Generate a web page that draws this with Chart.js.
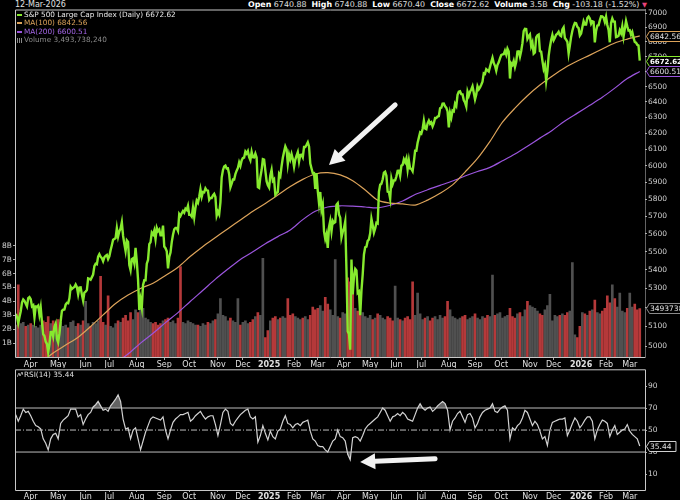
<!DOCTYPE html>
<html>
<head>
<meta charset="utf-8">
<title>S&amp;P 500 Large Cap Index (Daily)</title>
<script src="https://cdn.jsdelivr.net/npm/chart.js@4.4.1/dist/chart.umd.min.js"></script>
<style>
  html, body { margin: 0; padding: 0; background: #000; }
  body { width: 680px; height: 500px; overflow: hidden; position: relative; font-family: "DejaVu Sans", Verdana, sans-serif; color: #ddd; }
  canvas { position: absolute; left: 0; }
  #mainChart { top: 0; }
  #rsiChart { top: 368px; }
  .hdr { position: absolute; top: 0; font-size: 8px; line-height: 10px; white-space: nowrap; }
  #hdrDate { left: 15px; color: #e0e0e0; }
  #hdrQuote { left: 248px; font-size: 7.9px; color: #e0e0e0; }
  #hdrQuote b { color: #fff; }
  .dn { color: #e8437a; font-size: 6.5px; }
  .legend { position: absolute; left: 17px; font-size: 7.3px; line-height: 8.3px; white-space: nowrap; }
  #legend { top: 11px; }
  #rsiLegend { top: 371px; color: #e0e0e0; }
  .key { display: inline-block; width: 5px; height: 2px; margin-right: 2px; vertical-align: middle; }
  .vicon { display: inline-block; width: 5px; height: 5px; margin-right: 2px; vertical-align: -1px;
           background: repeating-linear-gradient(90deg, #888 0 1px, transparent 1px 2px); }
</style>
</head>
<body>
<div id="hdrDate" class="hdr">12-Mar-2026</div>
<div id="hdrQuote" class="hdr"><b>Open</b> 6740.88 &nbsp;<b>High</b> 6740.88 &nbsp;<b>Low</b> 6670.40 &nbsp;<b>Close</b> 6672.62 &nbsp;<b>Volume</b> 3.5B &nbsp;<b>Chg</b> -103.18 (-1.52%) <span class="dn">&#9660;</span></div>

<canvas id="mainChart" width="680" height="368"></canvas>
<canvas id="rsiChart" width="680" height="132"></canvas>

<div id="legend" class="legend">
  <div style="color:#e8e8e8"><span class="key" style="background:#86ea2e"></span>S&amp;P 500 Large Cap Index (Daily) 6672.62</div>
  <div style="color:#dca35a"><span class="key" style="background:#dca35a"></span>MA(100) 6842.56</div>
  <div style="color:#a466e6"><span class="key" style="background:#9b55dd"></span>MA(200) 6600.51</div>
  <div style="color:#8a8a8a"><span class="vicon"></span>Volume 3,493,738,240</div>
</div>
<div id="rsiLegend" class="legend"><svg width="6" height="6" style="vertical-align:-1px;margin-right:1px"><polyline points="0,5 2,1 3,4 5,0 6,3" fill="none" stroke="#ccc" stroke-width="0.8"/></svg>RSI(14) 35.44</div>

<script>
// Daily closes, one per trading day, starting 13-Mar-2024 (day -12; day 0 = 1-Apr-2024)
var firstDay = -12;
var closes = [
  5165, 5150, 5117, 5149, 5179, 5225, 5241, 5234, 5218, 5204, 5248, 5254,                        // Mar 24
  5243, 5205, 5211, 5147, 5204, 5202, 5209, 5161, 5199, 5123, 5061, 5051, 5022, 5011, 4967, 5010, 5071, 5072, 5048, 5100, 5116, 5036, // Apr
  5018, 5064, 5128, 5181, 5187, 5188, 5214, 5223, 5221, 5247, 5308, 5297, 5303, 5308, 5321, 5307, 5268, 5305, 5306, 5267, 5235, 5278, // May
  5283, 5291, 5354, 5352, 5347, 5361, 5375, 5421, 5434, 5431, 5473, 5487, 5473, 5465, 5448, 5469, 5478, 5483, 5460, // Jun
  5475, 5509, 5537, 5567, 5572, 5577, 5633, 5585, 5615, 5631, 5667, 5589, 5545, 5505, 5564, 5555, 5427, 5399, 5459, 5464, 5436, 5522, // Jul
  5446, 5347, 5186, 5240, 5199, 5319, 5344, 5344, 5434, 5455, 5543, 5554, 5608, 5597, 5620, 5571, 5635, 5616, 5625, 5592, 5592, 5648, // Aug
  5529, 5520, 5503, 5408, 5471, 5496, 5554, 5596, 5626, 5634, 5634, 5618, 5714, 5703, 5719, 5732, 5722, 5745, 5738, 5762, // Sep
  5709, 5709, 5699, 5751, 5696, 5751, 5792, 5780, 5815, 5859, 5815, 5843, 5841, 5865, 5853, 5851, 5797, 5809, 5808, 5823, 5832, 5813, 5705, // Oct
  5728, 5712, 5782, 5929, 5973, 5996, 6001, 5984, 5985, 5949, 5871, 5893, 5917, 5917, 5949, 5970, 5987, 6021, 5999, 6032, // Nov
  6047, 6050, 6087, 6075, 6090, 6053, 6034, 6085, 6052, 6051, 6074, 6050, 5872, 5867, 5931, 5974, 6040, 6037, 5971, 5907, 5882, // Dec
  5869, 5942, 5975, 5909, 5918, 5827, 5836, 5843, 5950, 5937, 5997, 6049, 6086, 6119, 6101, 6012, 6068, 6039, 6071, 6041, // Jan 25
  5994, 6038, 6061, 6083, 6026, 6066, 6068, 6052, 6115, 6115, 6129, 6144, 6118, 6013, 5983, 5955, 5956, 5861, 5955, // Feb
  5850, 5778, 5843, 5739, 5770, 5615, 5572, 5599, 5522, 5639, 5675, 5615, 5675, 5663, 5668, 5768, 5777, 5712, 5693, 5581, 5612, // Mar
  5633, 5671, 5397, 5074, 5062, 4982, 5457, 5268, 5363, 5406, 5397, 5276, 5283, 5158, 5288, 5376, 5485, 5525, 5529, 5561, 5569, // Apr
  5604, 5687, 5650, 5607, 5631, 5664, 5660, 5844, 5886, 5892, 5917, 5958, 5964, 5940, 5845, 5842, 5803, 5922, 5889, 5912, 5912, // May
  5936, 5970, 5971, 5939, 6000, 6006, 6039, 6022, 6045, 5977, 6033, 5983, 5981, 5967, 6025, 6092, 6092, 6141, 6173, 6205, // Jun
  6198, 6227, 6279, 6230, 6226, 6263, 6280, 6260, 6269, 6244, 6264, 6297, 6297, 6306, 6309, 6359, 6363, 6389, 6390, 6371, 6362, 6339, // Jul
  6238, 6330, 6299, 6345, 6340, 6389, 6374, 6446, 6466, 6469, 6450, 6449, 6411, 6396, 6370, 6467, 6440, 6466, 6481, 6502, 6460, // Aug
  6416, 6448, 6502, 6482, 6495, 6512, 6532, 6588, 6584, 6615, 6607, 6600, 6631, 6664, 6693, 6657, 6638, 6605, 6644, 6661, 6688, // Sep
  6711, 6715, 6716, 6740, 6714, 6754, 6735, 6553, 6655, 6644, 6671, 6630, 6664, 6735, 6736, 6699, 6738, 6792, 6875, 6891, 6890, 6822, 6840, // Oct
  6852, 6771, 6796, 6720, 6728, 6832, 6846, 6851, 6737, 6734, 6672, 6617, 6642, 6538, 6603, 6705, 6766, 6813, 6849, // Nov
  6812, 6829, 6850, 6857, 6870, 6846, 6840, 6887, 6901, 6827, 6816, 6800, 6721, 6775, 6835, 6878, 6910, 6932, 6930, 6905, 6896, 6845, // Dec
  6858, 6902, 6944, 6921, 6921, 6966, 6977, 6963, 6926, 6944, 6940, 6797, 6876, 6913, 6916, 6950, 6979, 6978, 6969, 6939, // Jan 26
  6976, 6918, 6883, 6798, 6932, 6964, 6942, 6941, 6833, 6836, 6843, 6881, 6861, 6909, 6837, 6890, 6946, 6908, 6879, // Feb
  6881, 6850, 6869, 6830, 6800, 6795, 6781, 6776, 6672.62                                       // Mar
];

// Moving averages read every 10 trading days
var ma100Start = 8;
var ma100 = [
  4915, 4965, 5005, 5045, 5100, 5160, 5220, 5265, 5300, 5328,
  5370, 5415, 5475, 5530, 5580, 5630, 5680, 5730, 5775, 5825,
  5875, 5918, 5950, 5958, 5945, 5910, 5855, 5795, 5778, 5773,
  5766, 5795, 5835, 5885, 5962, 6045, 6150, 6270, 6360, 6440,
  6510, 6570, 6625, 6670, 6710, 6752, 6793, 6820, 6842.56
];
var ma200Start = 68;
var ma200 = [
  4915, 4960, 5015, 5065, 5120, 5172, 5232, 5290, 5350, 5405,
  5458, 5500, 5545, 5585, 5623, 5682, 5730, 5755, 5762, 5760,
  5755, 5750, 5765, 5790, 5828, 5856, 5882, 5908, 5938, 5965,
  5990, 6030, 6072, 6120, 6170, 6220, 6278, 6328, 6378, 6430,
  6490, 6553, 6600.51
];
var maStep = 10;

// Volume (billions) and RSI(14), read every 2nd trading day from day -12
var halfStart = -12;
var halfStep = 2;
var volumes = [
  2.3, 5.2, 2.4, 2.5, 2.2, 2.3,
  2.4, 2.3, 2.2, 2.1, 2.3, 2.6, 2.5, 2.9, 2.4, 2.6,
  2.2, 2.7, 2.5, 2.2, 2.3, 2.1, 2.5, 2.6, 2.2, 2.4,
  2.3, 2.6, 4.0, 2.4, 2.2, 2.5, 2.4, 2.6, 5.8, 2.5,
  2.3, 4.4, 2.2, 2.1, 2.4, 2.6, 2.5, 2.8, 3.0, 2.6,
  3.2, 2.7, 3.4, 3.2, 3.9, 3.5, 2.8, 2.7, 2.5, 2.4,
  2.5, 2.3, 2.4, 2.6, 2.7, 2.8, 2.5, 2.6, 2.4, 2.8,
  6.5, 2.5, 2.4, 2.6, 2.5, 2.4, 2.3, 2.3, 2.2, 2.4,
  2.3, 2.5, 2.4, 2.6, 2.7, 3.1, 4.2, 3.0, 2.9, 2.6,
  2.8, 2.6, 2.5, 4.2, 2.3, 2.5, 2.6, 2.4, 2.5, 2.7,
  2.9, 3.2, 3.0, 7.1, 1.4, 1.9, 2.6, 2.8, 2.9, 2.7,
  2.8, 2.9, 2.8, 4.2, 3.0, 3.1, 2.9, 2.8, 2.7, 2.8,
  2.9, 2.7, 3.0, 3.6, 3.4, 3.5, 3.7, 3.3, 4.3, 3.8,
  3.4, 3.0, 7.0, 2.9, 2.8, 3.2, 3.1, 5.7, 5.4, 4.8,
  3.5, 3.3, 3.0, 3.2, 2.9, 2.8, 3.0, 2.7, 2.8, 3.1,
  3.0, 2.8, 2.7, 2.9, 2.8, 2.6, 5.1, 2.8, 2.7, 2.6,
  2.8, 2.9, 2.7, 5.4, 3.0, 4.6, 3.1, 2.7, 2.8, 2.9,
  2.6, 2.8, 2.9, 2.7, 3.0, 2.8, 2.9, 4.0, 3.4, 2.9,
  2.8, 2.7, 2.8, 2.9, 3.0, 2.7, 2.8, 2.9, 3.1, 2.8,
  2.7, 2.9, 2.8, 3.0, 2.9, 5.9, 3.0, 3.1, 3.2, 2.8,
  2.9, 3.0, 3.5, 2.9, 2.8, 3.1, 3.2, 2.9, 3.4, 4.0,
  3.7, 3.6, 3.5, 3.3, 3.1, 3.0, 3.4, 3.7, 4.5, 2.6,
  3.0, 2.9, 3.0, 3.1, 3.0, 3.2, 3.3, 6.8, 1.6, 1.4,
  2.2, 3.2, 3.1, 3.0, 3.3, 3.4, 4.1, 3.2, 3.1, 3.3,
  3.5, 4.4, 3.9, 5.2, 4.2, 3.6, 4.6, 3.3, 3.2, 3.5,
  4.6, 3.6, 3.8, 3.4, 3.49
];
var rsi14 = [
  64, 58, 63, 69, 66, 67,
  63, 58, 54, 53, 51, 42, 38, 32, 42, 46,
  47, 42, 56, 59, 61, 63, 69, 69, 69, 62,
  64, 55, 60, 64, 66, 71, 73, 76, 72, 68,
  69, 67, 72, 75, 78, 82, 76, 60, 51, 52,
  42, 50, 52, 42, 32, 40, 48, 54, 60, 62,
  61, 60, 59, 62, 50, 42, 50, 57, 60, 62,
  64, 64, 65, 66, 58, 60, 63, 65, 67, 63,
  60, 62, 63, 63, 55, 45, 55, 66, 69, 67,
  56, 54, 58, 61, 64, 66, 68, 69, 62, 60,
  62, 39, 45, 54, 47, 41, 49, 44, 42, 49,
  51, 58, 63, 56, 55, 52, 55, 56, 54, 57,
  58, 59, 49, 42, 40, 36, 35, 35, 32, 30,
  35, 40, 42, 50, 44, 43, 40, 28, 23, 43,
  44, 43, 40, 45, 51, 54, 56, 58, 60, 62,
  66, 70, 68, 63, 58, 62, 63, 65, 63, 66,
  64, 60, 59, 58, 64, 70, 74, 70, 68, 70,
  71, 67, 69, 72, 74, 76, 74, 68, 50, 58,
  61, 65, 67, 62, 57, 64, 65, 61, 52, 56,
  62, 66, 68, 69, 70, 74, 67, 66, 69, 71,
  72, 68, 42, 52, 50, 54, 56, 61, 68, 66,
  60, 54, 58, 55, 49, 42, 44, 36, 50, 57,
  58, 59, 60, 60, 61, 45, 50, 56, 61, 58,
  52, 55, 59, 62, 62, 58, 42, 50, 55, 59,
  58, 56, 44, 50, 54, 46, 48, 50, 51, 55,
  49, 46, 44, 42, 35.44
];

// Axis ticks
var monthDays = [0, 22, 44, 63, 85, 107, 127, 150, 170, 191, 211, 230, 251, 272, 293, 313, 335, 356, 377, 400, 419, 441, 461, 480];
var monthLabels = ['Apr', 'May', 'Jun', 'Jul', 'Aug', 'Sep', 'Oct', 'Nov', 'Dec', '2025', 'Feb', 'Mar',
                   'Apr', 'May', 'Jun', 'Jul', 'Aug', 'Sep', 'Oct', 'Nov', 'Dec', '2026', 'Feb', 'Mar'];
var priceTicks = [5000, 5100, 5200, 5300, 5400, 5500, 5600, 5700, 5800, 5900, 6000, 6100, 6200, 6300, 6400, 6500, 6600, 6700, 6800, 6900, 7000];
var volumeTicks = [1, 2, 3, 4, 5, 6, 7, 8];
var rsiTicks = [10, 30, 50, 70, 90];
var rsiLevels = [70, 50, 30];

// Arrow notes, in data coordinates [day, value]
var priceArrow = { from: [292, 6381], to: [239, 6005] };
var rsiArrow = { from: [324, 24], to: [264, 21] };

var FONT = '"DejaVu Sans", Verdana, sans-serif';
var X_MIN = -12.6, X_MAX = 492.2;
var GREEN = '#86ea2e', ORANGE = '#dca35a', PURPLE = '#9b55dd';
var VOL_RED = '#b5393a', VOL_GRAY = '#505050';

console.log('sp500 chart script loaded');

function toPoints(values, start, step) {
    return values.map(function (v, i) { return { x: start + i * step, y: v }; });
}

var pricePoints = toPoints(closes, firstDay, 1);
var ma100Points = toPoints(ma100, ma100Start, maStep);
var ma200Points = toPoints(ma200, ma200Start, maStep);
var volumePoints = toPoints(volumes, halfStart, halfStep);
var rsiPoints = toPoints(rsi14, halfStart, halfStep);

// Red bar when the close is below the previous close
var volumeColors = volumePoints.map(function (p) {
    var k = p.x - firstDay;
    return (k > 0 && closes[k] < closes[k - 1]) ? VOL_RED : VOL_GRAY;
});

function fixWidth(w) {
    return function (scale) { scale.width = w; scale.paddingTop = 0; scale.paddingBottom = 0; };
}
function fixHeight(h) {
    return function (scale) { scale.height = h; scale.paddingLeft = 0; scale.paddingRight = 0; };
}

function monthAxis(height, tickLen) {
    return {
        type: 'linear', position: 'bottom', min: X_MIN, max: X_MAX, offset: false,
        afterBuildTicks: function (axis) { axis.ticks = monthDays.map(function (d) { return { value: d }; }); },
        afterFit: fixHeight(height),
        ticks: {
            autoSkip: false, maxRotation: 0, padding: 0, color: '#e0e0e0',
            font: function (c) {
                var isYear = c.tick && (c.tick.value === 191 || c.tick.value === 441);
                return { family: FONT, size: 8, weight: isYear ? 'bold' : 'normal' };
            },
            callback: function (v, i) { return monthLabels[i]; }
        },
        grid: { offset: false, drawOnChartArea: false, tickLength: tickLen, color: '#aaa' },
        border: { display: false }
    };
}

// Box round the plot area
function framePlugin(dottedRight) {
    return {
        id: 'frame',
        afterDraw: function (chart) {
            var a = chart.chartArea, ctx = chart.ctx;
            ctx.save();
            ctx.strokeStyle = '#c8c8c8';
            ctx.lineWidth = 1;
            ctx.beginPath();
            ctx.moveTo(a.right + 0.5, a.top + 0.5);
            ctx.lineTo(a.left + 0.5, a.top + 0.5);
            ctx.lineTo(a.left + 0.5, a.bottom + 0.5);
            ctx.lineTo(a.right + 0.5, a.bottom + 0.5);
            if (!dottedRight) ctx.lineTo(a.right + 0.5, a.top + 0.5);
            ctx.stroke();
            if (dottedRight) {
                ctx.setLineDash([1, 1]);
                ctx.beginPath();
                ctx.moveTo(a.right + 0.5, a.top);
                ctx.lineTo(a.right + 0.5, a.bottom);
                ctx.stroke();
            }
            ctx.restore();
        }
    };
}

function drawTag(ctx, x, y, text, color, bold) {
    ctx.save();
    ctx.font = (bold ? 'bold 7px ' : '7.5px ') + FONT;
    var w = ctx.measureText(text).width + 5;
    ctx.beginPath();
    ctx.moveTo(x, y);
    ctx.lineTo(x + 3, y - 5);
    ctx.lineTo(x + 3 + w, y - 5);
    ctx.lineTo(x + 3 + w, y + 5);
    ctx.lineTo(x + 3, y + 5);
    ctx.closePath();
    ctx.fillStyle = '#000';
    ctx.fill();
    ctx.strokeStyle = color;
    ctx.lineWidth = 1;
    ctx.stroke();
    ctx.fillStyle = bold ? '#fff' : '#e0e0e0';
    ctx.textBaseline = 'middle';
    ctx.fillText(text, x + 3.5, y + 0.5);
    ctx.restore();
}

function tagPlugin(tags) {
    return {
        id: 'tags',
        afterDraw: function (chart) {
            tags.forEach(function (t) {
                var y = chart.scales[t.axis].getPixelForValue(t.value);
                drawTag(chart.ctx, chart.chartArea.right + 1.5, Math.round(y) + 0.5, t.text, t.color, t.bold);
            });
        }
    };
}

function arrowPlugin(arrow, yAxis) {
    return {
        id: 'arrow',
        afterDatasetsDraw: function (chart) {
            var sx = chart.scales.x, sy = chart.scales[yAxis], ctx = chart.ctx;
            var x1 = sx.getPixelForValue(arrow.from[0]), y1 = sy.getPixelForValue(arrow.from[1]);
            var x2 = sx.getPixelForValue(arrow.to[0]), y2 = sy.getPixelForValue(arrow.to[1]);
            var ang = Math.atan2(y2 - y1, x2 - x1);
            var head = 15, half = 8;
            var bx = x2 - head * Math.cos(ang), by = y2 - head * Math.sin(ang);
            ctx.save();
            ctx.strokeStyle = '#f2f2f2';
            ctx.fillStyle = '#f2f2f2';
            ctx.lineWidth = 5;
            ctx.lineCap = 'round';
            ctx.beginPath();
            ctx.moveTo(x1, y1);
            ctx.lineTo(bx, by);
            ctx.stroke();
            ctx.beginPath();
            ctx.moveTo(x2, y2);
            ctx.lineTo(bx + half * Math.sin(ang), by - half * Math.cos(ang));
            ctx.lineTo(bx - half * Math.sin(ang), by + half * Math.cos(ang));
            ctx.closePath();
            ctx.fill();
            ctx.restore();
        }
    };
}

var lastClose = closes[closes.length - 1];
var lastMa100 = ma100[ma100.length - 1];
var lastMa200 = ma200[ma200.length - 1];
var lastVolume = volumes[volumes.length - 1];
var lastRsi = rsi14[rsi14.length - 1];

var mainChart = new Chart(document.getElementById('mainChart'), {
    data: {
        datasets: [
            { type: 'line', label: 'S&P 500', data: pricePoints, yAxisID: 'y', order: 0,
              borderColor: GREEN, borderWidth: 2.4, pointRadius: 0, tension: 0 },
            { type: 'line', label: 'MA(100)', data: ma100Points, yAxisID: 'y', order: 1,
              borderColor: ORANGE, borderWidth: 1.2, pointRadius: 0, tension: 0.3 },
            { type: 'line', label: 'MA(200)', data: ma200Points, yAxisID: 'y', order: 2,
              borderColor: PURPLE, borderWidth: 1.2, pointRadius: 0, tension: 0.3 },
            { type: 'bar', label: 'Volume', data: volumePoints, yAxisID: 'yv', order: 3,
              backgroundColor: volumeColors, barThickness: 2 }
        ]
    },
    options: {
        responsive: false, animation: false, events: [],
        layout: { padding: { top: 9.5, left: 0, right: 0, bottom: 0 } },
        plugins: { legend: { display: false }, tooltip: { enabled: false } },
        scales: {
            x: monthAxis(11, 3),
            y: {
                type: 'logarithmic', position: 'right', min: 4945, max: 7027,
                afterBuildTicks: function (axis) { axis.ticks = priceTicks.map(function (v) { return { value: v }; }); },
                afterFit: fixWidth(35),
                ticks: { padding: 1, color: '#d0d0d0', font: { family: FONT, size: 7.5 },
                         callback: function (v) { return String(v); } },
                grid: { drawOnChartArea: false, tickLength: 2, color: '#aaa' },
                border: { display: false }
            },
            yv: {
                type: 'linear', position: 'left', min: 0, max: 25,
                afterBuildTicks: function (axis) { axis.ticks = volumeTicks.map(function (v) { return { value: v }; }); },
                afterFit: fixWidth(15),
                ticks: { padding: 1, color: '#d0d0d0', font: { family: FONT, size: 7.5 },
                         callback: function (v) { return v + 'B'; } },
                grid: { drawOnChartArea: false, tickLength: 2, color: '#aaa' },
                border: { display: false }
            }
        }
    },
    plugins: [
        framePlugin(true),
        arrowPlugin(priceArrow, 'y'),
        tagPlugin([
            { axis: 'y', value: lastMa100, text: lastMa100.toFixed(2), color: ORANGE, bold: false },
            { axis: 'y', value: lastClose, text: lastClose.toFixed(2), color: GREEN, bold: true },
            { axis: 'y', value: lastMa200, text: lastMa200.toFixed(2), color: PURPLE, bold: false },
            { axis: 'yv', value: lastVolume, text: '3493738240', color: '#8a8a8a', bold: false }
        ])
    ]
});

// RSI panel: the line, shading beyond 70 / 30, and the level lines
var rsiDatasets = [
    { type: 'line', label: 'RSI(14)', data: rsiPoints, borderColor: '#d2d2d2', borderWidth: 1.2,
      pointRadius: 0, fill: { target: { value: 70 }, above: 'rgba(165,165,165,0.6)', below: 'rgba(0,0,0,0)' } },
    { type: 'line', label: 'RSI low fill', data: rsiPoints, borderWidth: 0, borderColor: 'rgba(0,0,0,0)',
      pointRadius: 0, fill: { target: { value: 30 }, above: 'rgba(0,0,0,0)', below: 'rgba(165,165,165,0.6)' } }
];
rsiLevels.forEach(function (lvl) {
    rsiDatasets.push({
        type: 'line', label: 'level ' + lvl, data: [{ x: X_MIN, y: lvl }, { x: X_MAX, y: lvl }],
        borderColor: '#bdbdbd', borderWidth: 1, pointRadius: 0,
        borderDash: lvl === 50 ? [6, 2, 1, 2] : []
    });
});

var rsiChart = new Chart(document.getElementById('rsiChart'), {
    data: { datasets: rsiDatasets },
    options: {
        responsive: false, animation: false, events: [],
        layout: { padding: { top: 1.3, left: 15, right: 0, bottom: 0 } },
        plugins: { legend: { display: false }, tooltip: { enabled: false } },
        scales: {
            x: monthAxis(10, 2),
            y: {
                type: 'linear', position: 'right', min: -4.5, max: 105.2,
                afterBuildTicks: function (axis) { axis.ticks = rsiTicks.map(function (v) { return { value: v }; }); },
                afterFit: fixWidth(35),
                ticks: { padding: 1, color: '#d0d0d0', font: { family: FONT, size: 7.5 } },
                grid: { drawOnChartArea: false, tickLength: 2, color: '#aaa' },
                border: { display: false }
            }
        }
    },
    plugins: [
        framePlugin(false),
        arrowPlugin(rsiArrow, 'y'),
        tagPlugin([{ axis: 'y', value: lastRsi, text: lastRsi.toFixed(2), color: '#d0d0d0', bold: false }])
    ]
});
</script>
</body>
</html>
